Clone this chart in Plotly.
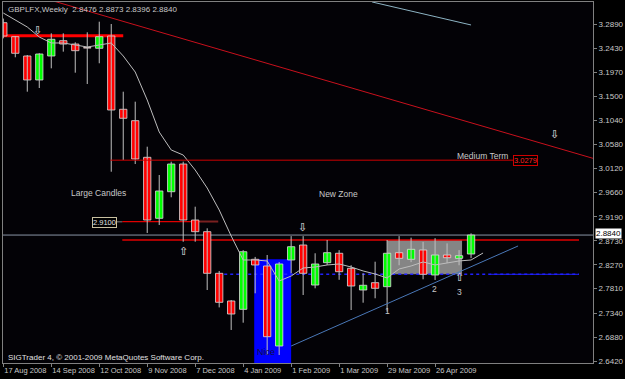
import plotly.graph_objects as go
from datetime import datetime, timedelta

# ---------------- data ----------------
dates = ["2008-08-17", "2008-08-24", "2008-08-31", "2008-09-07", "2008-09-14", "2008-09-21",
         "2008-09-28", "2008-10-05", "2008-10-12", "2008-10-19", "2008-10-26", "2008-11-02",
         "2008-11-09", "2008-11-16", "2008-11-23", "2008-11-30", "2008-12-07", "2008-12-14",
         "2008-12-21", "2008-12-28", "2009-01-04", "2009-01-11", "2009-01-18", "2009-01-25",
         "2009-02-01", "2009-02-08", "2009-02-15", "2009-02-22", "2009-03-01", "2009-03-08",
         "2009-03-15", "2009-03-22", "2009-03-29", "2009-04-05", "2009-04-12", "2009-04-19",
         "2009-04-26", "2009-05-03", "2009-05-10", "2009-05-17"]
opens = [3.2921, 3.2652, 3.2281, 3.1820, 3.2281, 3.2575, 3.2511, 3.2443, 3.2429, 3.2665,
         3.1257, 3.1038, 3.0334, 2.9162, 2.9673, 3.0205, 2.9129, 2.8905, 2.8105, 2.7573,
         2.7413, 2.8374, 2.8246, 2.6708, 2.8361, 2.8649, 2.7880, 2.8309, 2.8490, 2.8201,
         2.7784, 2.7925, 2.7848, 2.8501, 2.8374, 2.8553, 2.8073, 2.8457, 2.8393, 2.8476]
highs = [3.3000, 3.2665, 3.2300, 3.2335, 3.2717, 3.2717, 3.2544, 3.2736, 3.2940, 3.2896,
         3.1595, 3.1403, 3.0538, 2.9994, 3.0250, 3.0250, 2.9385, 2.8970, 2.8150, 2.7592,
         2.8550, 2.8420, 2.8457, 2.8320, 2.8820, 2.8820, 2.8490, 2.8745, 2.8550, 2.8260,
         2.8105, 2.8328, 2.8745, 2.8820, 2.8790, 2.8710, 2.8780, 2.8680, 2.8550, 2.8873]
lows = [3.2620, 3.2256, 3.1595, 3.1666, 3.2044, 3.2364, 3.1960, 3.1743, 3.2141, 3.0057,
        3.0282, 3.0205, 2.8880, 2.9033, 2.9566, 2.8712, 2.8712, 2.7784, 2.7450, 2.7016,
        2.7156, 2.7721, 2.6535, 2.6535, 2.8105, 2.7688, 2.7817, 2.8265, 2.7980, 2.7400,
        2.7540, 2.7625, 2.7367, 2.8260, 2.8320, 2.7990, 2.7977, 2.8304, 2.8260, 2.8396]
closes = [3.2665, 3.2333, 3.1820, 3.2319, 3.2602, 3.2511, 3.2383, 3.2433, 3.2652, 3.1243,
          3.1084, 3.0302, 2.9129, 2.9687, 3.0205, 2.9129, 2.8905, 2.8105, 2.7548, 2.7323,
          2.8520, 2.8265, 2.6887, 2.8284, 2.8616, 2.8105, 2.8284, 2.8501, 2.8136, 2.7861,
          2.7875, 2.7817, 2.8490, 2.8393, 2.8566, 2.8086, 2.8457, 2.8405, 2.8443, 2.8840]

ma_dates = dates + ["2009-05-24"]
ma_values = [3.3107, 3.2973, 3.2838, 3.2646, 3.2531, 3.2531, 3.2492, 3.2454, 3.2492, 3.2531,
             3.2281, 3.1973, 3.1435, 3.0820, 3.0475, 3.0378, 3.0090, 2.9744, 2.9322, 2.8822,
             2.8361, 2.8361, 2.8342, 2.7957, 2.8053, 2.8207, 2.8226, 2.8265, 2.8284, 2.8226,
             2.8150, 2.8092, 2.8015, 2.8188, 2.8246, 2.8323, 2.8265, 2.8304, 2.8342, 2.8361,
             2.8495]

y_ticks = [3.2890, 3.2430, 3.1970, 3.1500, 3.1040, 3.0580, 3.0120, 2.9660, 2.9190,
           2.8730, 2.8270, 2.7810, 2.7340, 2.6880, 2.6420]
x_tick_dates = ["2008-08-17", "2008-09-14", "2008-10-12", "2008-11-09", "2008-12-07",
                "2009-01-04", "2009-02-01", "2009-03-01", "2009-03-29", "2009-04-26"]
x_tick_labels = ["17 Aug 2008", "14 Sep 2008", "12 Oct 2008", "9 Nov 2008", "7 Dec 2008",
                 "4 Jan 2009", "1 Feb 2009", "1 Mar 2009", "29 Mar 2009", "26 Apr 2009"]

last_price = 2.8840
resistance_top = 3.2671
medium_term = 3.0279
level_2910 = 2.9100
red_level = 2.8745
blue_level = 2.8086
nice_top = 2.8374

# ---------------- helpers ----------------
START = datetime(2008, 8, 17)
def wk(n):
    return START + timedelta(days=7 * n)

FONT = "Liberation Sans, Arial, sans-serif"
LBL = "#c8c8c8"

fig = go.Figure()

# wicks
wx, wy = [], []
for d, h, l in zip(dates, highs, lows):
    wx += [d, d, None]
    wy += [l, h, None]
fig.add_trace(go.Scatter(x=wx, y=wy, mode="lines", line=dict(color="#c0c0c0", width=1),
                         hoverinfo="skip", showlegend=False))

body_w = 0.61 * 7 * 86400000
for up in (True, False):
    xs, bases, hts = [], [], []
    for d, o, c in zip(dates, opens, closes):
        if (c >= o) == up:
            xs.append(d)
            bases.append(min(o, c))
            hts.append(max(abs(c - o), 0.0004))
    fig.add_trace(go.Bar(x=xs, y=hts, base=bases, width=body_w,
                         marker=dict(color="#00ff00" if up else "#ff0000",
                                     line=dict(color="#e0e0e0", width=0.8)),
                         showlegend=False, hoverinfo="skip"))

fig.add_trace(go.Scatter(x=ma_dates, y=ma_values, mode="lines",
                         line=dict(color="#bdbdbd", width=1), showlegend=False,
                         hoverinfo="skip"))

# ---------------- shapes ----------------
shapes = []
# blue "Nice" box
shapes.append(dict(type="rect", xref="x", yref="y", x0=wk(20.92), x1=wk(24.0),
                   y0=2.60, y1=nice_top, fillcolor="#0000ff", line=dict(width=0), layer="below"))
# grey zone
shapes.append(dict(type="rect", xref="x", yref="y", x0=wk(32.0), x1=wk(38.25),
                   y0=blue_level, y1=red_level, fillcolor="#858585", line=dict(width=0),
                   layer="below"))
# current price line
shapes.append(dict(type="line", xref="paper", yref="y", x0=0, x1=1, y0=last_price,
                   y1=last_price, line=dict(color="#8a96a6", width=1), layer="below"))
# thick red resistance
shapes.append(dict(type="line", xref="x", yref="y", x0=wk(-0.1), x1=wk(10.0),
                   y0=resistance_top, y1=resistance_top,
                   line=dict(color="#ff0000", width=3), layer="below"))
# medium term
shapes.append(dict(type="line", xref="x", yref="y", x0=wk(8.92), x1=wk(42.7),
                   y0=medium_term, y1=medium_term, line=dict(color="#d00000", width=1)))
# 2.9100 level
shapes.append(dict(type="line", xref="x", yref="y", x0=wk(9.92), x1=wk(16.4),
                   y0=level_2910, y1=level_2910, line=dict(color="#e00000", width=1.2),
                   layer="below"))
shapes.append(dict(type="line", xref="x", yref="y", x0=wk(16.4), x1=wk(17.92),
                   y0=level_2910, y1=level_2910, line=dict(color="#7a2020", width=2),
                   layer="below"))
# connector from 2.9100 label to its line
shapes.append(dict(type="line", xref="x", yref="y", x0=wk(9.42), x1=wk(9.92),
                   y0=level_2910 - 0.0006, y1=level_2910 - 0.0006,
                   line=dict(color="#808080", width=1)))
# red level 2.8745
shapes.append(dict(type="line", xref="x", yref="y", x0=wk(9.92), x1=wk(48.0),
                   y0=red_level, y1=red_level, line=dict(color="#e00000", width=1.5),
                   layer="below"))
# blue level
shapes.append(dict(type="line", xref="x", yref="y", x0=wk(17.92), x1=wk(48.0),
                   y0=blue_level, y1=blue_level,
                   line=dict(color="#2020ff", width=1.5, dash="dot"), layer="below"))
shapes.append(dict(type="line", xref="x", yref="y", x0=wk(40.6), x1=wk(48.0),
                   y0=blue_level, y1=blue_level, line=dict(color="#2020ff", width=1),
                   layer="below"))
# red falling trendline
shapes.append(dict(type="line", xref="x", yref="y", x0=wk(3.0), x1=wk(49.5),
                   y0=3.3357 - 0.0019216 * (-3.1), y1=3.3357 - 0.0019216 * 159.5,
                   line=dict(color="#c8101c", width=1)))
# steel-blue line at top
shapes.append(dict(type="line", xref="x", yref="y", x0=wk(30.75), x1=wk(39.0),
                   y0=3.3319, y1=3.2877, line=dict(color="#8db4c4", width=1)))
# rising blue trendline
shapes.append(dict(type="line", xref="x", yref="y", x0=wk(24.0), x1=wk(42.92),
                   y0=2.6708, y1=2.8630, line=dict(color="#4a78b8", width=1)))

# ---------------- annotations ----------------
ann = []
def txt(x, y, s, color=LBL, size=8, **kw):
    d = dict(x=x, y=y, xref="x", yref="y", text=s, showarrow=False,
             font=dict(family=FONT, size=size, color=color))
    d.update(kw)
    ann.append(d)

txt(wk(7.92), 2.9648, "Large Candles", size=8.5)
txt(wk(27.92), 2.9629, "New Zone", size=8.5)
txt(wk(39.92), 3.0359, "Medium Term", size=8.5)
txt(wk(43.58), medium_term, "3.0279", color="#ff2020", size=7.5,
    bordercolor="#d00000", borderwidth=1, borderpad=0, bgcolor="#000000")
txt(wk(8.42), 2.9090, "2.9100", color="#e0e0e0", size=7.5,
    bordercolor="#c8c0a0", borderwidth=1, borderpad=0, bgcolor="#000000")
for x, y, s in [(2.83, 3.2780, "\u21e9"), (24.92, 2.8995, "\u21e9"), (15.0, 2.8534, "\u21e7"),
                (45.92, 3.0782, "\u21e9"), (38.0, 2.8037, "\u21e7")]:
    txt(wk(x), y, s, color="#e8e8e8", size=11)
txt(wk(32.0), 2.7381, "1", size=8.5)
txt(wk(35.92), 2.7804, "2", size=8.5)
txt(wk(38.0), 2.7746, "3", size=8.5)
txt(wk(21.92), 2.6593, "Nice", color="#101040", size=9)

ann.append(dict(xref="paper", yref="paper", x=0, y=1, xanchor="left", yanchor="top",
                xshift=3, yshift=-1, showarrow=False,
                text="GBPLFX,Weekly  2.8476 2.8873 2.8396 2.8840",
                font=dict(family=FONT, size=8, color=LBL)))
ann.append(dict(xref="paper", yref="paper", x=0, y=0, xanchor="left", yanchor="bottom",
                xshift=3, yshift=-1, showarrow=False,
                text="SIGTrader 4, \u00a9 2001-2009 MetaQuotes Software Corp.",
                font=dict(family=FONT, size=8, color="#e0e0e0")))
ann.append(dict(xref="paper", yref="y", x=1, y=last_price, xanchor="left", xshift=2,
                yshift=2, showarrow=False, text="2.8840", bgcolor="#ffffff", borderpad=0,
                font=dict(family=FONT, size=8, color="#000000")))

fig.update_layout(
    width=625, height=379,
    margin=dict(l=3, r=32, t=2, b=16, autoexpand=False),
    paper_bgcolor="#000000", plot_bgcolor="#030206",
    barmode="overlay", showlegend=False,
    shapes=shapes, annotations=ann,
    xaxis=dict(type="date", range=[wk(-0.025), wk(49.167)],
               tickvals=x_tick_dates, ticktext=x_tick_labels, tickangle=0,
               ticks="outside", ticklen=3, tickcolor="#808080",
               ticklabelposition="outside right", automargin=False,
               tickfont=dict(family=FONT, size=7.5, color=LBL),
               showgrid=False, zeroline=False, showline=True, mirror=True,
               linecolor="#808080", linewidth=1),
    yaxis=dict(side="right", range=[2.63815, 3.33185], automargin=False,
               tickvals=y_ticks, ticktext=[f"{v:.4f}" for v in y_ticks],
               ticks="outside", ticklen=3, tickcolor="#808080",
               tickfont=dict(family=FONT, size=8, color=LBL),
               showgrid=False, zeroline=False, showline=True, mirror=True,
               linecolor="#808080", linewidth=1),
)

fig.write_html("out.html")
